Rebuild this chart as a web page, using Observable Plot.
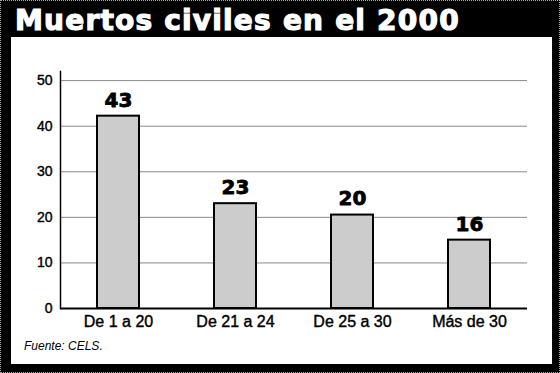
<!DOCTYPE html>
<html>
<head>
<meta charset="utf-8">
<script src="https://cdn.jsdelivr.net/npm/d3@7"></script>
<script src="https://cdn.jsdelivr.net/npm/@observablehq/plot@0.6"></script>
<style>
  html, body { margin: 0; padding: 0; background: #fff; }
  #frame { position: relative; width: 560px; height: 373px; background: #000; box-sizing: border-box; border: 1px dotted #aaa; overflow: hidden; }
  #title { position: absolute; left: 14px; top: 6px; margin: 0; color: #fff; font-family: "DejaVu Sans", sans-serif; font-weight: bold; font-size: 28px; line-height: 28px; letter-spacing: 1.2px; -webkit-text-stroke: 1.2px #fff; white-space: nowrap; }
  #panel { position: absolute; left: 10px; top: 36px; width: 541px; height: 327px; background: #fff; }
  #caption { position: absolute; left: 13px; top: 302px; margin: 0; font-family: "Liberation Sans", Arial, sans-serif; font-style: italic; font-size: 12px; line-height: 14px; color: #000; }
  #chart svg [aria-label="x-axis tick label"], #chart svg [aria-label="y-axis tick label"] { stroke: #000; stroke-width: 0.4px; }
</style>
</head>
<body>
<div id="frame">
  <h1 id="title">Muertos civiles en el 2000</h1>
  <div id="panel">
    <div id="chart"></div>
    <p id="caption">Fuente: CELS.</p>
  </div>
</div>
<script>
const categories = ["De 1 a 20", "De 21 a 24", "De 25 a 30", "Más de 30"];
const valueLabels = [43, 23, 20, 16];
const barHeights = [42.2, 23, 20.5, 15];
const yTicks = [0, 10, 20, 30, 40, 50];

const data = categories.map((c, i) => ({ cat: c, label: valueLabels[i], h: barHeights[i] }));

const chart = Plot.plot({
  width: 541,
  height: 301,
  marginLeft: 49,
  marginRight: 25,
  marginTop: 34,
  marginBottom: 30,
  style: { fontFamily: "Liberation Sans, Arial, sans-serif", background: "white", color: "#000" },
  x: { domain: categories, paddingInner: 0.64, paddingOuter: 0.30, label: null },
  y: { domain: [0, 52], label: null },
  marks: [
    Plot.gridY(yTicks.filter(d => d > 0), { stroke: "#888", strokeOpacity: 1, strokeWidth: 1 }),
    Plot.barY(data, { x: "cat", y: "h", fill: "#cccccc", stroke: "#000", strokeWidth: 2 }),
    Plot.frame({ anchor: "left", stroke: "#000", strokeWidth: 1.5 }),
    Plot.ruleY([0], { stroke: "#000", strokeWidth: 2 }),
    Plot.text(data, { x: "cat", y: "h", text: d => String(d.label), dy: -16, fontSize: 20, fontWeight: "bold", fontFamily: "DejaVu Sans, sans-serif", fill: "#000", stroke: "#000", strokeWidth: 0.8 }),
    Plot.axisY({ ticks: yTicks, tickSize: 0, tickPadding: 8, fontSize: 14, label: null }),
    Plot.axisX({ tickSize: 0, tickPadding: 7, fontSize: 16, label: null })
  ]
});
document.getElementById("chart").appendChild(chart);
</script>
</body>
</html>
